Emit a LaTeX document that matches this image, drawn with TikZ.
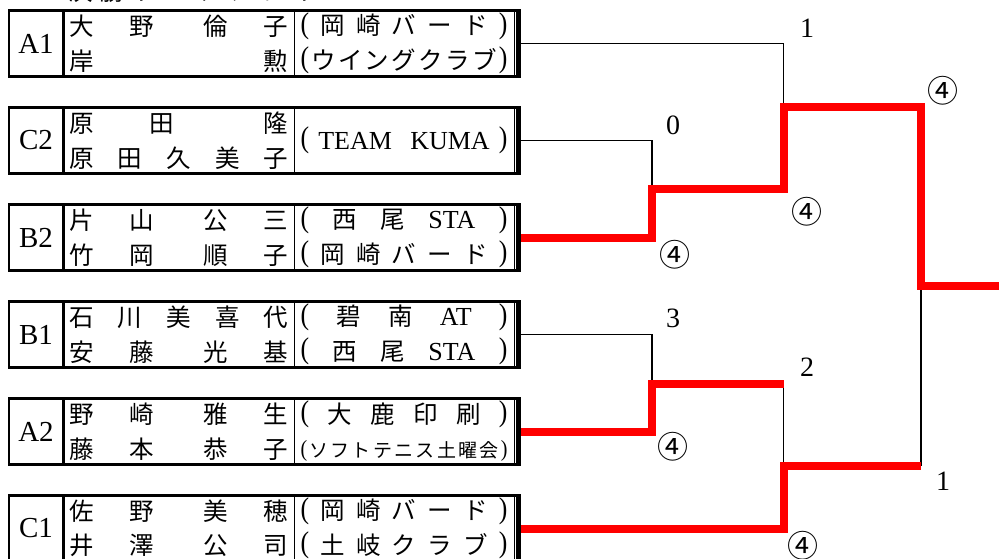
\documentclass[tikz,border=0pt]{standalone}
\usepackage{fontspec}
\setmainfont{Liberation Serif}
\newfontfamily\jp{Noto Sans CJK JP}
\usepackage{tikz}
\usetikzlibrary{positioning, calc}

\newcommand{\lp}{\raisebox{.06em}{\rmfamily\scalebox{1.05}[1.22]{(}}}
\newcommand{\rp}{\raisebox{.06em}{\rmfamily\scalebox{1.05}[1.22]{)}}}
\newcommand{\lat}[1]{{\rmfamily\fontsize{26}{34.5}\selectfont #1}}
\newcommand{\wide}{\hskip 0pt plus 1.4fill}
\newcommand{\pname}[2]{\makebox[219pt][s]{#1}\\\makebox[219pt][s]{#2}}
\newcommand{\pclub}[2]{\makebox[207pt][s]{#1}\\\makebox[207pt][s]{#2}}

\begin{document}
\begin{tikzpicture}[x=1pt, y=-1pt, node distance=97pt, outer sep=0pt]
  \tikzstyle{seed} = [draw, line width=2.4pt, minimum width=54.6pt, minimum height=66pt, inner sep=0pt, font=\rmfamily\fontsize{29}{29}\selectfont]
  \tikzstyle{names} = [draw, line width=1pt, minimum width=230.7pt, minimum height=66pt, inner sep=0pt, align=center, font=\jp\fontsize{24.5}{34.5}\selectfont]
  \tikzstyle{club} = [names, minimum width=220pt]
  \tikzstyle{wire} = [line width=1.1pt]
  \tikzstyle{win} = [red, line width=8pt]
  \tikzstyle{score} = [font=\rmfamily\fontsize{28}{28}\selectfont]
  \tikzstyle{circ} = [font=\jp\fontsize{31}{31}\selectfont]

  \useasboundingbox (0,0) rectangle (999,558);
  \clip (0,0) rectangle (999,558);

  % heading, cut by the top edge
  \node[font=\jp\fontsize{24.5}{24.5}\selectfont] (heading) at (194,-8.5) {\makebox[252pt][s]{決\hfill 勝\hfill ト\hfill ー\hfill ナ\hfill メ\hfill ン\hfill ト}};

  % teams
  \node[seed] (A1) at (36,43.5) {A1};
  \node[names, right=0pt of A1] (A1name) {\pname{大\hfill 野\wide 倫\hfill 子}{岸\hfill 勲}};
  \node[club, right=0pt of A1name] (A1club) {\pclub{\lp\hfill 岡\hfill 崎\hfill バ\hfill ー\hfill ド\hfill\rp}{\lp\hfill ウ\hfill イ\hfill ン\hfill グ\hfill ク\hfill ラ\hfill ブ\hfill\rp}};

  \node[seed, below of=A1] (C2) {C2};
  \node[names, right=0pt of C2] (C2name) {\pname{原\hfill 田\hskip0pt plus1.6fill 隆}{原\hfill 田\hfill 久\hfill 美\hfill 子}};
  \node[club, right=0pt of C2name] (C2club) {\makebox[207pt][s]{\lp\hfill\lat{TEAM}\hskip0pt plus2fill\lat{KUMA}\hfill\rp}};

  \node[seed, below of=C2] (B2) {B2};
  \node[names, right=0pt of B2] (B2name) {\pname{片\hfill 山\wide 公\hfill 三}{竹\hfill 岡\wide 順\hfill 子}};
  \node[club, right=0pt of B2name] (B2club) {\pclub{\lp\hfill 西\hfill 尾\hfill\lat{STA}\hfill\rp}{\lp\hfill 岡\hfill 崎\hfill バ\hfill ー\hfill ド\hfill\rp}};

  \node[seed, below of=B2] (B1) {B1};
  \node[names, right=0pt of B1] (B1name) {\pname{石\hfill 川\hfill 美\hfill 喜\hfill 代}{安\hfill 藤\wide 光\hfill 基}};
  \node[club, right=0pt of B1name] (B1club) {\pclub{\lp\hfill 碧\hfill 南\hfill\lat{AT}\hfill\rp}{\lp\hfill 西\hfill 尾\hfill\lat{STA}\hfill\rp}};

  \node[seed, below of=B1] (A2) {A2};
  \node[names, right=0pt of A2] (A2name) {\pname{野\hfill 崎\wide 雅\hfill 生}{藤\hfill 本\wide 恭\hfill 子}};
  \node[club, right=0pt of A2name] (A2club) {\pclub{\lp\hfill 大\hfill 鹿\hfill 印\hfill 刷\hfill\rp}{{\fontsize{19}{34.5}\selectfont\lp\hfill ソ\hfill フ\hfill ト\hfill テ\hfill ニ\hfill ス\hfill 土\hfill 曜\hfill 会\hfill\rp}}};

  \node[seed, below of=A2] (C1) {C1};
  \node[names, right=0pt of C1] (C1name) {\pname{佐\hfill 野\wide 美\hfill 穂}{井\hfill 澤\wide 公\hfill 司}};
  \node[club, right=0pt of C1name] (C1club) {\pclub{\lp\hfill 岡\hfill 崎\hfill バ\hfill ー\hfill ド\hfill\rp}{\lp\hfill 土\hfill 岐\hfill ク\hfill ラ\hfill ブ\hfill\rp}};

  % thick frame and double bar
  \foreach \team in {A1,C2,B2,B1,A2,C1} {
    \draw[line width=2.4pt] (\team.north west) -- ([xshift=7.3pt]\team club.north east);
    \draw[line width=2.4pt] (\team.south west) -- ([xshift=7.3pt]\team club.south east);
    \draw[line width=5.3pt] ([xshift=4.65pt]\team club.north east) -- ([xshift=4.65pt]\team club.south east);
    \coordinate (\team out) at ([xshift=7.3pt]\team club.east);
  }

  % bracket
  \coordinate (M1) at (652,189);
  \coordinate (M2) at (783.5,107);
  \coordinate (M3) at (652,383.5);
  \coordinate (M4) at (783.5,465.5);
  \coordinate (Fin) at (921,286);
  \coordinate (Champ) at (1010,286);

  \draw[wire] (A1out) -| (M2);
  \draw[wire] (C2out) -| (M1);
  \draw[wire] (B1out) -| (M3);
  \draw[wire] (M3 -| M4) -- (M4);
  \draw[wire] (M4 -| Fin) -- (Fin);

  \draw[win] (B2out) -| (M1) -| (M2) -| (Fin) -- (Champ);
  \draw[win] (A2out) -| (M3) -- (M3 -| M4);
  \draw[win] (C1out) -| (M4) -- (M4 -| Fin);

  % scores
  \node[score] (s1) at (807,28) {1};
  \node[score] (s2) at (673,125) {0};
  \node[circ] (w1) at (675,255) {④};
  \node[circ] (w2) at (807,212) {④};
  \node[circ] (w3) at (943,91) {④};
  \node[score] (s3) at (673,318) {3};
  \node[score] (s4) at (807,367) {2};
  \node[circ] (w4) at (673,447) {④};
  \node[score] (s5) at (943,481) {1};
  \node[circ] (w5) at (803,546) {④};
\end{tikzpicture}
\end{document}
